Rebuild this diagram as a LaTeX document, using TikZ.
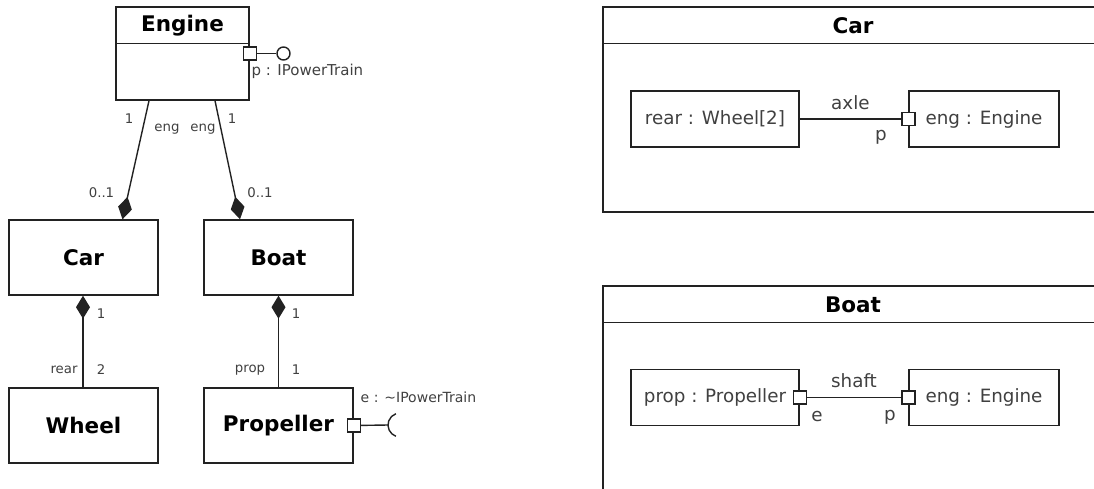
\documentclass[tikz,border=0pt]{standalone}
\usepackage{fontspec}
\setmainfont{DejaVu Sans}
\usetikzlibrary{arrows.meta,calc,positioning}
\definecolor{labelgray}{RGB}{64,64,64}
\definecolor{linegray}{RGB}{34,34,34}

\begin{document}
\begin{tikzpicture}[
    x=1pt, y=-1pt,
    line width=1.4pt, draw=linegray,
    classbox/.style={draw, fill=white, inner sep=0pt, minimum width=149pt, minimum height=75pt,
        font=\bfseries\fontsize{21.5}{25}\selectfont},
    titletext/.style={inner sep=0pt, font=\bfseries\fontsize{21.5}{25}\selectfont},
    framebox/.style={draw, inner sep=0pt, minimum width=500pt},
    partbox/.style={draw, fill=white, inner sep=0pt, minimum height=56pt, text=labelgray,
        font=\fontsize{18.3}{22}\selectfont},
    port/.style={draw, fill=white, inner sep=0pt, minimum size=13pt},
    mult/.style={inner sep=0pt, text=labelgray, font=\fontsize{13.3}{15}\selectfont},
    portlabel/.style={inner sep=0pt, anchor=west, text=labelgray, font=\fontsize{15}{17}\selectfont},
    connlabel/.style={inner sep=0pt, text=labelgray, font=\fontsize{18.3}{22}\selectfont},
    compose/.style={{Diamond[length=23pt, width=14pt]}-}
]

\useasboundingbox (0,0) rectangle (1094,489);
\clip (0,0) rectangle (1094,489);

% Classes
\node[draw, inner sep=0pt, minimum width=133pt, minimum height=93pt] (Engine) at (182.5,53.5) {};
\node[titletext] (EngineTitle) at (182.5,25.5) {Engine};
\draw ($(Engine.north west)+(0,37)$) -- ($(Engine.north east)+(0,37)$);

\node[classbox] (Car) at (83.5,257.5) {Car};
\node[classbox] (Boat) at (278.5,257.5) {Boat};
\node[classbox] (Wheel) at (83.5,425.5) {Wheel};
\node[classbox] (Propeller) at (278.5,425.5) {Propeller};

% Ports and interfaces
\node[port] (pPort) at (Engine.east) {};
\node[draw, circle, inner sep=0pt, minimum size=13pt] (pProv) at (283.5,53.5) {};
\draw (pPort) -- (pProv);
\node[portlabel] (pLabel) at (251,71) {p : IPowerTrain};

\node[port] (ePort) at (Propeller.east) {};
\coordinate (eSock) at (400,425);
\coordinate (eSockL) at (388,425);
\draw (ePort) -- (eSockL);
\draw ($(eSock)+(110:12)$) arc[start angle=110, end angle=250, radius=12];
\node[portlabel, font=\fontsize{14}{17}\selectfont] (eLabel) at (360,397) {e : \char`\~IPowerTrain};

% Compositions
\coordinate (engL) at ($(Engine.south)+(-33.5,0)$);
\coordinate (engR) at ($(Engine.south)+(32.5,0)$);
\draw[compose] ($(Car.north)+(39,0)$) -- (engL);
\draw[compose] ($(Boat.north)+(-38.5,0)$) -- (engR);
\draw[compose] ($(Car.south)+(-0.5,0)$) -- ($(Wheel.north)+(-0.5,0)$);
\draw[compose] (Boat.south) -- (Propeller.north);

% Multiplicities and role names
\node[mult] (mEngL) at (129,119) {1};
\node[mult] (rEngL) at (167,129) {eng};
\node[mult] (rEngR) at (203,129) {eng};
\node[mult] (mEngR) at (232,119) {1};
\node[mult] (mCar) at (101.5,193) {0..1};
\node[mult] (mBoat) at (260,193) {0..1};
\node[mult] (mCarW) at (101,314) {1};
\node[mult] (rRear) at (64,370) {rear};
\node[mult] (mRear) at (101,370) {2};
\node[mult] (mBoatP) at (296,314) {1};
\node[mult] (rProp) at (250,370) {prop};
\node[mult] (mProp) at (296,370) {1};

% Internal structure of Car
\node[framebox, minimum height=205pt] (CarFrame) at (853,109.5) {};
\node[titletext] (CarTitle) at (853,25.5) {Car};
\draw ($(CarFrame.north west)+(0,37)$) -- ($(CarFrame.north east)+(0,37)$);
\node[partbox, minimum width=168pt] (rearPart) at (715,119) {rear : Wheel[2]};
\node[partbox, minimum width=150pt] (engCar) at (984,119) {eng : Engine};
\node[port] (pCar) at (engCar.west) {};
\draw (rearPart) -- (pCar) node[connlabel, midway, above=9pt] (axleLabel) {axle};
\node[connlabel] (pCarLabel) at (881,137) {p};

% Internal structure of Boat
\node[framebox, minimum height=214pt] (BoatFrame) at (853,393) {};
\node[titletext] (BoatTitle) at (853,304.5) {Boat};
\draw ($(BoatFrame.north west)+(0,37)$) -- ($(BoatFrame.north east)+(0,37)$);
\node[partbox, minimum width=168pt] (propPart) at (715,397.5) {prop : Propeller};
\node[partbox, minimum width=150pt] (engBoat) at (984,397.5) {eng : Engine};
\node[port] (eBoat) at (propPart.east) {};
\node[port] (pBoat) at (engBoat.west) {};
\draw (eBoat) -- (pBoat) node[connlabel, midway, above=9pt] (shaftLabel) {shaft};
\node[connlabel] (eBoatLabel) at (817,417) {e};
\node[connlabel] (pBoatLabel) at (890,417) {p};

\end{tikzpicture}
\end{document}
